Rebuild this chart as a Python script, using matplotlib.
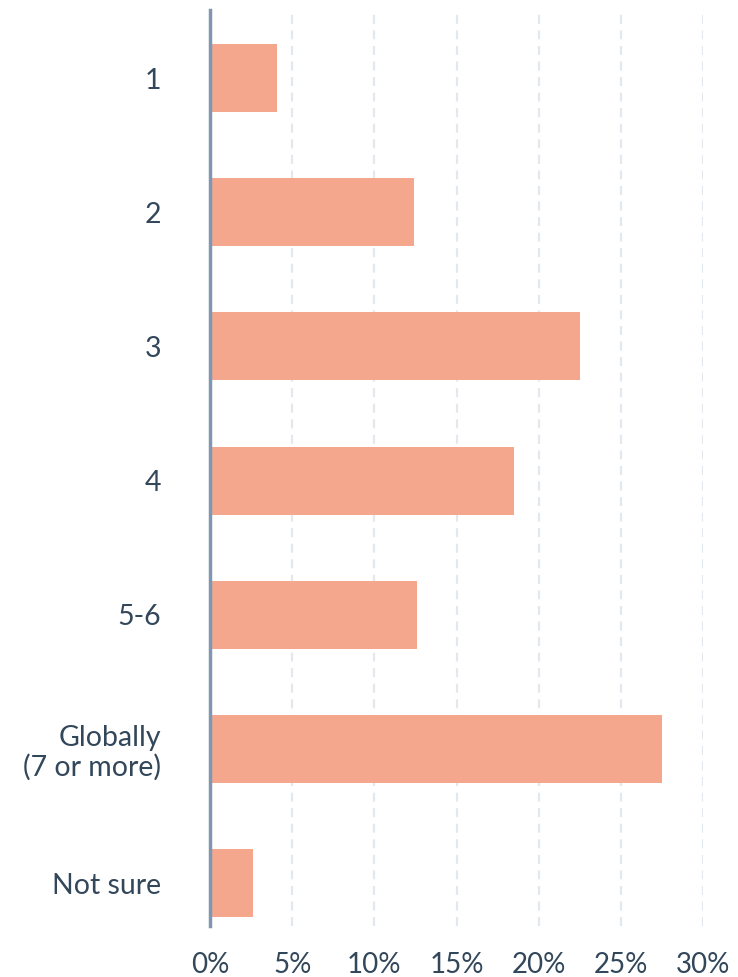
import matplotlib
matplotlib.use("Agg")
import matplotlib.pyplot as plt

categories = ["1", "2", "3", "4", "5-6", "Globally\n(7 or more)", "Not sure"]
values = [4.1, 12.4, 22.5, 18.5, 12.6, 27.5, 2.6]
xticks = [0, 5, 10, 15, 20, 25, 30]
xtick_labels = ["0%", "5%", "10%", "15%", "20%", "25%", "30%"]

plt.rcParams['font.family'] = ['Lato', 'DejaVu Sans']
text_color = "#33475B"

fig = plt.figure(figsize=(7.38, 9.77), dpi=100)
ax = fig.add_axes([210/738, 1-926/977, (703-210)/738, (926-10)/977])

ypos = list(range(len(categories)))
ax.barh(ypos, values, height=0.507, color="#F5A78E", zorder=3)
ax.set_ylim(6.32, -0.507)
ax.set_xlim(0, 30)

ax.set_yticks(ypos)
ax.set_yticklabels(categories, fontsize=20.5, color=text_color, linespacing=1.15)
for lbl in ax.get_yticklabels():
    lbl.set_horizontalalignment('right')
ax.set_xticks(xticks)
ax.set_xticklabels(xtick_labels, fontsize=20, color=text_color)
ax.tick_params(axis='y', length=0, pad=35)
ax.tick_params(axis='x', length=0, pad=19)

ax.grid(axis='x', color="#E3E7EE", linestyle=(0, (4, 3)), linewidth=1.6, zorder=0)
ax.grid(axis='y', visible=False)
for s in ['top', 'right', 'bottom']:
    ax.spines[s].set_visible(False)
ax.spines['left'].set_color("#7F97B2")
ax.spines['left'].set_linewidth(2.5)
ax.spines['left'].set_zorder(4)

fig.savefig("out.png", dpi=100, facecolor="white")
